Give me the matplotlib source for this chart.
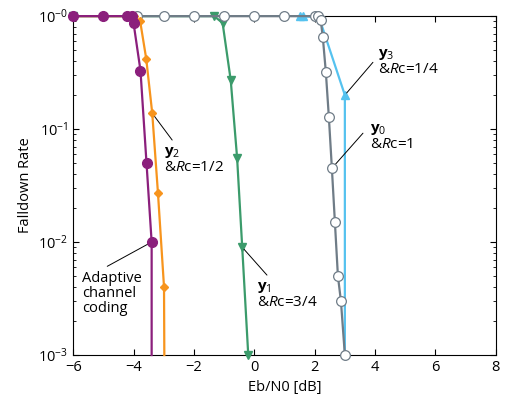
import matplotlib
matplotlib.use("Agg")
import matplotlib.pyplot as plt
from matplotlib.ticker import FixedLocator, FixedFormatter, LogLocator, NullFormatter

plt.rcParams["font.family"] = ["Open Sans", "DejaVu Sans"]
plt.rcParams["mathtext.fontset"] = "custom"
plt.rcParams["mathtext.rm"] = "Open Sans"
plt.rcParams["mathtext.it"] = "Open Sans:italic"
plt.rcParams["mathtext.bf"] = "Open Sans:bold"

# adaptive channel coding
adapt_x = [-6.0, -5.0, -4.2, -4.05, -4.0, -3.77, -3.57, -3.4, -3.4]
adapt_y = [1.0, 1.0, 1.0, 1.0, 0.87, 0.33, 0.05, 0.01, 0.001]
# y2, Rc = 1/2
y2_x = [-6.0, -5.0, -4.0, -3.78, -3.58, -3.38, -3.19, -2.99, -2.98]
y2_y = [1.0, 1.0, 1.0, 0.9, 0.42, 0.138, 0.027, 0.004, 0.001]
# y1, Rc = 3/4
y1_x = [-6.0, -1.33, -1.05, -0.78, -0.57, -0.4, -0.2]
y1_y = [1.0, 1.0, 0.87, 0.27, 0.056, 0.009, 0.001]
# y3, Rc = 1/4
y3_x = [1.5, 1.6, 2.0, 2.2, 3.0, 3.0]
y3_y = [1.0, 1.0, 0.98, 0.88, 0.2, 0.001]
# y0, Rc = 1
y0_x = [-3.9, -3.0, -2.0, -1.0, 0.0, 1.0, 2.0, 2.1, 2.2, 2.27, 2.37, 2.47, 2.57, 2.67, 2.77, 2.87, 3.0]
y0_y = [1.0, 1.0, 1.0, 1.0, 1.0, 1.0, 1.0, 1.0, 0.92, 0.65, 0.32, 0.128, 0.045, 0.015, 0.005, 0.003, 0.001]

fig = plt.figure(figsize=(5.08, 4.03), dpi=100)
ax = fig.add_axes([0.144, 0.119, 0.832, 0.841])

c_purple, c_orange, c_green = "#8b1f7c", "#f7941d", "#3b9b6b"
c_blue, c_gray = "#55c2ef", "#6f7c87"

ax.plot(y1_x, y1_y, color=c_green, lw=1.6, marker="v", ms=6, clip_on=False, zorder=3)
ax.plot(y3_x, y3_y, color=c_blue, lw=1.6, marker="^", ms=6, markevery=[0, 1, 4],
        clip_on=False, zorder=3)
ax.plot(y0_x, y0_y, color=c_gray, lw=1.6, marker="o", ms=7, mfc="white", mec=c_gray,
        mew=0.9, clip_on=False, zorder=4)
ax.plot(y2_x, y2_y, color=c_orange, lw=1.6, marker="D", ms=4.5, markevery=list(range(8)),
        clip_on=False, zorder=5)
ax.plot(adapt_x, adapt_y, color=c_purple, lw=1.6, marker="o", ms=7,
        markevery=list(range(8)), clip_on=False, zorder=6)

ax.set_yscale("log")
ax.set_xlim(-6, 8)
ax.set_ylim(1e-3, 1)
ax.set_xticks([-6, -4, -2, 0, 2, 4, 6, 8])
ax.yaxis.set_major_locator(FixedLocator([1e-3, 1e-2, 1e-1, 1]))
ax.yaxis.set_major_formatter(FixedFormatter(["$10^{-3}$", "$10^{-2}$", "$10^{-1}$", "$10^{-0}$"]))
ax.yaxis.set_minor_locator(LogLocator(base=10, subs=range(2, 10)))
ax.yaxis.set_minor_formatter(NullFormatter())
ax.tick_params(which="both", direction="in", top=True, right=True, labelsize=10.5)
ax.tick_params(which="major", length=4)
ax.tick_params(which="minor", length=2)
ax.set_xlabel("Eb/N0 [dB]", fontsize=10.5)
ax.set_ylabel("Falldown Rate", fontsize=10.5)


def label(text, xy, line_end, text_pos, size=11):
    ax.annotate("", xy=xy, xytext=line_end,
                arrowprops=dict(arrowstyle="-", color="black", lw=0.7, shrinkA=0, shrinkB=2))
    ax.text(text_pos[0], text_pos[1], text, fontsize=size, va="top", ha="left",
            linespacing=1.0)


def rc_text(name, rate):
    return r"$\mathbf{y}_{%s}$" % name + "\n&" + r"$R$" + "c=" + rate


label(rc_text("2", "1/2"), (-3.38, 0.138), (-2.72, 0.08), (-3.0, 0.072))
label(rc_text("1", "3/4"), (-0.4, 0.009), (0.42, 0.0051), (0.1, 0.0046))
label(rc_text("3", "1/4"), (3.0, 0.2), (3.93, 0.39), (4.1, 0.53))
label(rc_text("0", "1"), (2.57, 0.045), (3.6, 0.092), (3.83, 0.115))
label("Adaptive\nchannel\ncoding", (-3.4, 0.01), (-4.87, 0.0061), (-5.7, 0.0056), size=10.5)

fig.savefig("out.png", dpi=100)
